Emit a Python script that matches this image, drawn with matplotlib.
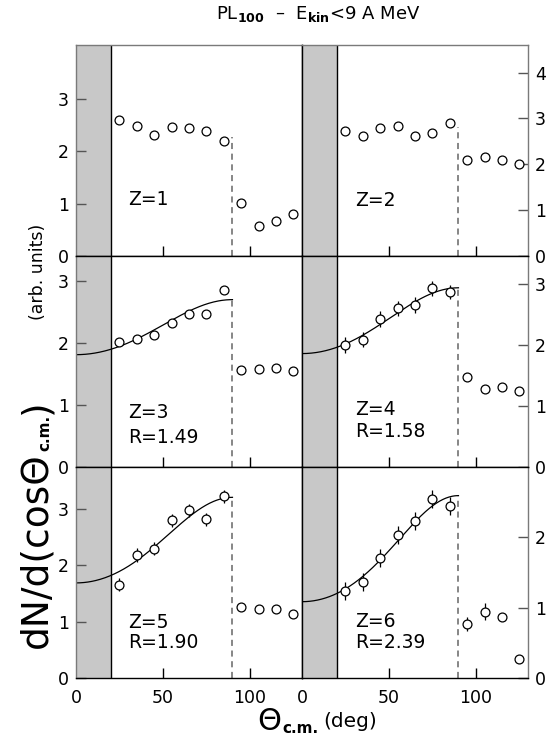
import numpy as np
import matplotlib
matplotlib.use("Agg")
import matplotlib.pyplot as plt

plt.rcParams['font.family'] = ['DejaVu Sans']
plt.rcParams['mathtext.fontset'] = 'dejavusans'

# ---------------- data ----------------
theta = [25, 35, 45, 55, 65, 75, 85, 95, 105, 115, 125]

y_z1 = [2.59, 2.48, 2.30, 2.46, 2.44, 2.38, 2.19, 1.01, 0.57, 0.66, 0.80]
y_z2 = [2.72, 2.61, 2.79, 2.83, 2.61, 2.69, 2.90, 2.10, 2.15, 2.10, 2.01]
y_z3 = [2.02, 2.06, 2.13, 2.32, 2.47, 2.46, 2.85, 1.56, 1.58, 1.59, 1.54]
y_z4 = [2.00, 2.09, 2.42, 2.60, 2.65, 2.93, 2.87, 1.47, 1.28, 1.32, 1.24]
y_z5 = [1.66, 2.19, 2.30, 2.80, 2.98, 2.82, 3.23, 1.27, 1.22, 1.22, 1.14]
y_z6 = [1.24, 1.36, 1.71, 2.03, 2.23, 2.55, 2.45, 0.77, 0.94, 0.87, 0.27]

e_z1 = [0.03] * 11
e_z2 = [0.03] * 11
e_z3 = [0.04] * 11
e_z4 = [0.13, 0.13, 0.13, 0.13, 0.13, 0.12, 0.12, 0.05, 0.05, 0.05, 0.05]
e_z5 = [0.12, 0.12, 0.12, 0.12, 0.12, 0.12, 0.12, 0.05, 0.05, 0.05, 0.05]
e_z6 = [0.13, 0.13, 0.13, 0.13, 0.13, 0.13, 0.13, 0.10, 0.12, 0.05, 0.05]

z_labels = ["Z=1", "Z=2", "Z=3", "Z=4", "Z=5", "Z=6"]
r_labels = [None, None, "R=1.49", "R=1.58", "R=1.90", "R=2.39"]

# fit parameters: f(theta) = A * R**(sin^2 theta), 0..90 deg
fit_A = [None, None, 1.81, 1.86, 1.69, 1.085]
fit_R = [None, None, 1.49, 1.58, 1.90, 2.39]

dash_top = [2.27, 2.82, None, None, None, None]

ylims = [4.02, 4.6, 3.40, 3.46, 3.75, 3.0]
yticks = [[0, 1, 2, 3], [0, 1, 2, 3, 4], [0, 1, 2, 3], [0, 1, 2, 3], [0, 1, 2, 3], [0, 1, 2]]
xticks = [0, 50, 100]

# label positions (axes fraction, baseline)
z_pos = [(0.231, 0.242), (0.234, 0.237), (0.231, 0.231), (0.234, 0.246), (0.231, 0.236), (0.234, 0.243)]
r_pos = [None, None, (0.231, 0.112), (0.234, 0.141), (0.231, 0.141), (0.234, 0.141)]

ys = [y_z1, y_z2, y_z3, y_z4, y_z5, y_z6]
es = [e_z1, e_z2, e_z3, e_z4, e_z5, e_z6]

# ---------------- figure ----------------
W, H = 555, 745
fig = plt.figure(figsize=(W / 100, H / 100), dpi=100)
renderer = fig.canvas.get_renderer()

col_x = [76, 302]
col_w = 226
row_top = [45, 256, 467]
row_h = 211

outer = '#7a7a7a'
for i in range(6):
    r, c = divmod(i, 2)
    x0 = col_x[c] / W
    y0 = 1 - (row_top[r] + row_h) / H
    ax = fig.add_axes([x0, y0, col_w / W, row_h / H])
    ax.set_xlim(0, 130)
    ax.set_ylim(0, ylims[i])

    ax.axvspan(0, 20, color='#c8c8c8', lw=0, zorder=0)
    ax.axvline(20, color='black', lw=1.0, zorder=1)

    if fit_A[i] is not None:
        th = np.linspace(0, 90, 200)
        f = fit_A[i] * fit_R[i] ** (np.sin(np.radians(th)) ** 2)
        ax.plot(th, f, color='black', lw=0.9, zorder=2)
        top = fit_A[i] * fit_R[i]
    else:
        top = dash_top[i]
    ax.plot([90, 90], [0, top], color='#666666', lw=1.1, ls=(0, (4, 3)), zorder=2)

    ax.errorbar(theta, ys[i], yerr=es[i], fmt='o', ms=6.4, mfc='white', mec='black',
                mew=0.9, ecolor='black', elinewidth=0.9, capsize=0, zorder=3)

    ax.text(z_pos[i][0], z_pos[i][1], z_labels[i], transform=ax.transAxes,
            fontsize=13.5, ha='left', va='baseline')
    if r_labels[i] is not None:
        ax.text(r_pos[i][0], r_pos[i][1], r_labels[i], transform=ax.transAxes,
                fontsize=13.5, ha='left', va='baseline')

    ax.set_yticks(yticks[i])
    ax.set_xticks(xticks)
    ax.tick_params(axis='both', direction='in', labelsize=12.5, length=7, width=1.0)
    ax.tick_params(axis='y', colors='#555555', labelcolor='black', pad=5)
    ax.tick_params(axis='x', pad=8)
    if c == 1:
        ax.yaxis.tick_right()
        ax.yaxis.set_label_position('right')
    if r < 2:
        ax.tick_params(axis='x', labelbottom=False)

    for s in ax.spines.values():
        s.set_color('black')
        s.set_linewidth(1.0)
    if r == 0:
        ax.spines['top'].set_color(outer)
    if c == 0:
        ax.spines['left'].set_color(outer)
    else:
        ax.spines['right'].set_color(outer)
    ax.xaxis.get_major_ticks()[0].tick1line.set_visible(False)

# title
fig.text(318 / W, 1 - 14 / H, r"PL$_{\mathbf{100}}$  –  E$_{\mathbf{kin}}$<9 A MeV",
         fontsize=13, ha='center', va='center')


def chain_vertical(x, y, parts):
    """parts: (text, size, weight, baseline shift in px); x,y in px from bottom-left"""
    for text, size, weight, dx in parts:
        t = fig.text((x + dx) / W, y / H, text, rotation=90, rotation_mode='anchor',
                     ha='left', va='baseline', fontsize=size, fontweight=weight)
        bb = t.get_window_extent(renderer)
        y = bb.y1 + 1


def chain_horizontal(x, y, parts):
    for text, size, weight, dy, gap in parts:
        t = fig.text(x / W, (y + dy) / H, text, ha='left', va='baseline',
                     fontsize=size, fontweight=weight)
        bb = t.get_window_extent(renderer)
        x = bb.x1 + gap


# y label
chain_vertical(46, H - 648, [("dN/d(cosΘ", 27, 'normal', 0),
                             ("c.m.", 11, 'bold', 3),
                             (")", 27, 'normal', 0)])
fig.text(43 / W, 1 - 320 / H, "(arb. units)", rotation=90,
         rotation_mode='anchor', ha='left', va='baseline', fontsize=12.5)

# x label
chain_horizontal(257, H - 730, [("Θ", 22, 'normal', 0, 1),
                                ("c.m.", 11, 'bold', -3, 5),
                                ("(deg)", 14.5, 'normal', 3, 0)])

fig.savefig("out.png", dpi=100)
